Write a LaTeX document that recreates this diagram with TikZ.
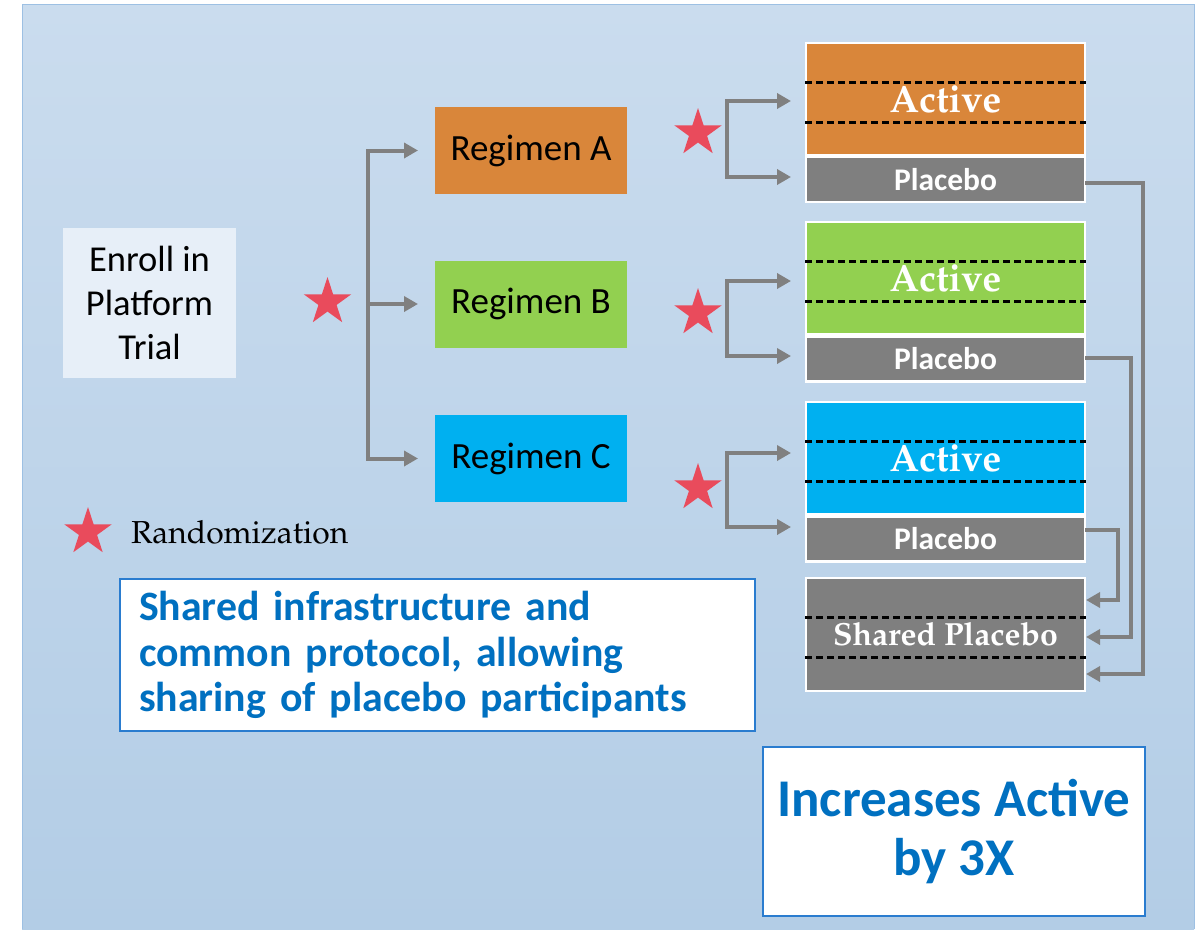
\documentclass[tikz,border=0pt]{standalone}
\usepackage[T1]{fontenc}
\usepackage{fontspec}
\setmainfont{Carlito}
\usetikzlibrary{arrows.meta,shapes.geometric,calc}
\newcommand\palfont{\fontencoding{T1}\fontfamily{ppl}\selectfont}
\definecolor{bgtop}{HTML}{CADCEE}
\definecolor{bgbot}{HTML}{B3CDE6}
\definecolor{bgline}{HTML}{9DC0E3}
\definecolor{orng}{HTML}{D9863A}
\definecolor{grn}{HTML}{92D050}
\definecolor{cyn}{HTML}{00B0F0}
\definecolor{gry}{HTML}{7F7F7F}
\definecolor{starred}{HTML}{E94B5C}
\definecolor{txtblue}{HTML}{0070C0}
\definecolor{boxblue}{HTML}{2A7CCF}
\definecolor{enrollfill}{HTML}{E7EFF8}
\definecolor{linegray}{HTML}{808080}
\tikzset{
  regbox/.style={minimum width=192pt, minimum height=87pt, inner sep=0pt, outer sep=0pt, font=\fontsize{37}{44}\selectfont},
  armbox/.style={draw=white, line width=2.5pt, minimum width=279pt, inner sep=0pt, outer sep=0pt, text=white},
  actbox/.style={armbox, minimum height=112pt, font={\palfont\bfseries\fontsize{38}{40}\selectfont}},
  placbox/.style={armbox, fill=gry, minimum height=45pt, font={\bfseries\fontsize{31.5}{36}\selectfont}},
  randstar/.style={star, star points=5, star point ratio=2.618, minimum size=50pt, inner sep=0pt, fill=starred},
  gline/.style={draw=linegray, line width=4pt},
  arr/.style={gline, -{Triangle[length=14pt,width=15pt]}},
  biarr/.style={gline, {Triangle[length=14pt,width=15pt]}-{Triangle[length=14pt,width=15pt]}},
  rarr/.style={draw=linegray, line width=3.5pt, -{Triangle[length=14pt,width=15pt]}},
  dline/.style={draw=black, line width=2.5pt, dash pattern=on 7pt off 4pt},
  bluebox/.style={draw=boxblue, line width=2pt, fill=white, text=txtblue}
}
\begin{document}
\begin{tikzpicture}[x=1pt,y=-1pt]
\useasboundingbox (0,0) rectangle (1201,929);
\fill[white] (0,0) rectangle (1201,929);
% panel
\shade[top color=bgtop, bottom color=bgbot] (22,4) rectangle (1194,929);
\draw[bgline, line width=1pt] (22,929) -- (22,4) -- (1194,4) -- (1194,929);

% enroll
\node[fill=enrollfill, minimum width=173pt, minimum height=150pt, inner sep=0pt, align=center,
      font=\fontsize{36.5}{44}\selectfont] (enroll) at (149.5,303) {Enroll in\\Platform\\Trial};

% regimens
\node[regbox, fill=orng] (rA) at (531,150.5) {Regimen A};
\node[regbox, fill=grn]  (rB) at (531,304) {Regimen B};
\node[regbox, fill=cyn]  (rC) at (531,458.5) {Regimen C};

% arms
\node[actbox, fill=orng] (aA) at (945.5,99) {Active};
\node[placbox] (pA) at (945.5,179.5) {Placebo};
\node[actbox, fill=grn] (aB) at (945.5,278) {Active};
\node[placbox] (pB) at (945.5,359) {Placebo};
\node[actbox, fill=cyn] (aC) at (945.5,458) {Active};
\node[placbox] (pC) at (945.5,539) {Placebo};
\node[armbox, fill=gry, minimum height=113pt, font={\palfont\bfseries\fontsize{32}{36}\selectfont}] (sh) at (945.5,634.5) {Shared Placebo};

\foreach \n in {aA,aB,aC,sh} {
  \draw[dline] ($(\n.north west)+(-1,39.5)$) -- ($(\n.north east)+(1,39.5)$);
  \draw[dline] ($(\n.north west)+(-1,79.5)$) -- ($(\n.north east)+(1,79.5)$);
}

% main bracket
\coordinate (bx) at (368,0);
\draw[biarr, shorten <=17pt, shorten >=17pt] (rA.west) -- (rA.west -| bx) -- (rC.west -| bx) -- (rC.west);
\draw[arr, shorten >=17pt] (rB.west -| bx) -- (rB.west);

% sub brackets
\coordinate (kA1) at (727,101); \coordinate (kA2) at (727,177);
\coordinate (kB1) at (727,281); \coordinate (kB2) at (727,356);
\coordinate (kC1) at (727,453); \coordinate (kC2) at (727,527);
\draw[biarr, shorten <=15pt, shorten >=15pt] (aA.west |- kA1) -- (kA1) -- (kA2) -- (pA.west |- kA2);
\draw[biarr, shorten <=15pt, shorten >=15pt] (aB.west |- kB1) -- (kB1) -- (kB2) -- (pB.west |- kB2);
\draw[biarr, shorten <=15pt, shorten >=15pt] (aC.west |- kC1) -- (kC1) -- (kC2) -- (pC.west |- kC2);

% placebo to shared
\coordinate (cA1) at (1143,183); \coordinate (cA2) at (1143,674);
\coordinate (cB1) at (1131,358); \coordinate (cB2) at (1131,637);
\coordinate (cC1) at (1118,530); \coordinate (cC2) at (1118,600);
\draw[rarr, shorten >=1pt] (pA.east |- cA1) -- (cA1) -- (cA2) -- (sh.east |- cA2);
\draw[rarr, shorten >=1pt] (pB.east |- cB1) -- (cB1) -- (cB2) -- (sh.east |- cB2);
\draw[rarr, shorten >=1pt] (pC.east |- cC1) -- (cC1) -- (cC2) -- (sh.east |- cC2);

% stars
\node[randstar] (sMain) at (327.5,302) {};
\node[randstar] (sA) at (698,133) {};
\node[randstar] (sB) at (698,313) {};
\node[randstar] (sC) at (698,488) {};
\node[randstar] (sR) at (88,532) {};
\node[anchor=west, inner sep=0pt, font={\palfont\fontsize{31.8}{36}\selectfont}] (rand) at (131,532) {Randomization};

% text boxes
\node[bluebox, minimum width=635pt, minimum height=152pt, text width=597pt, align=left,
      inner xsep=19pt, inner ysep=0pt, font={\bfseries\fontsize{41.8}{45.7}\selectfont}] (infra) at (437.5,655)
  {Shared infrastructure and\\common protocol, allowing\\sharing of placebo participants};
\node[bluebox, minimum width=382pt, minimum height=169pt, align=center, inner sep=0pt,
      font={\bfseries\fontsize{53}{59}\selectfont}] (incr) at (954,831.5) {Increases Active\\by 3X};
\end{tikzpicture}
\end{document}
